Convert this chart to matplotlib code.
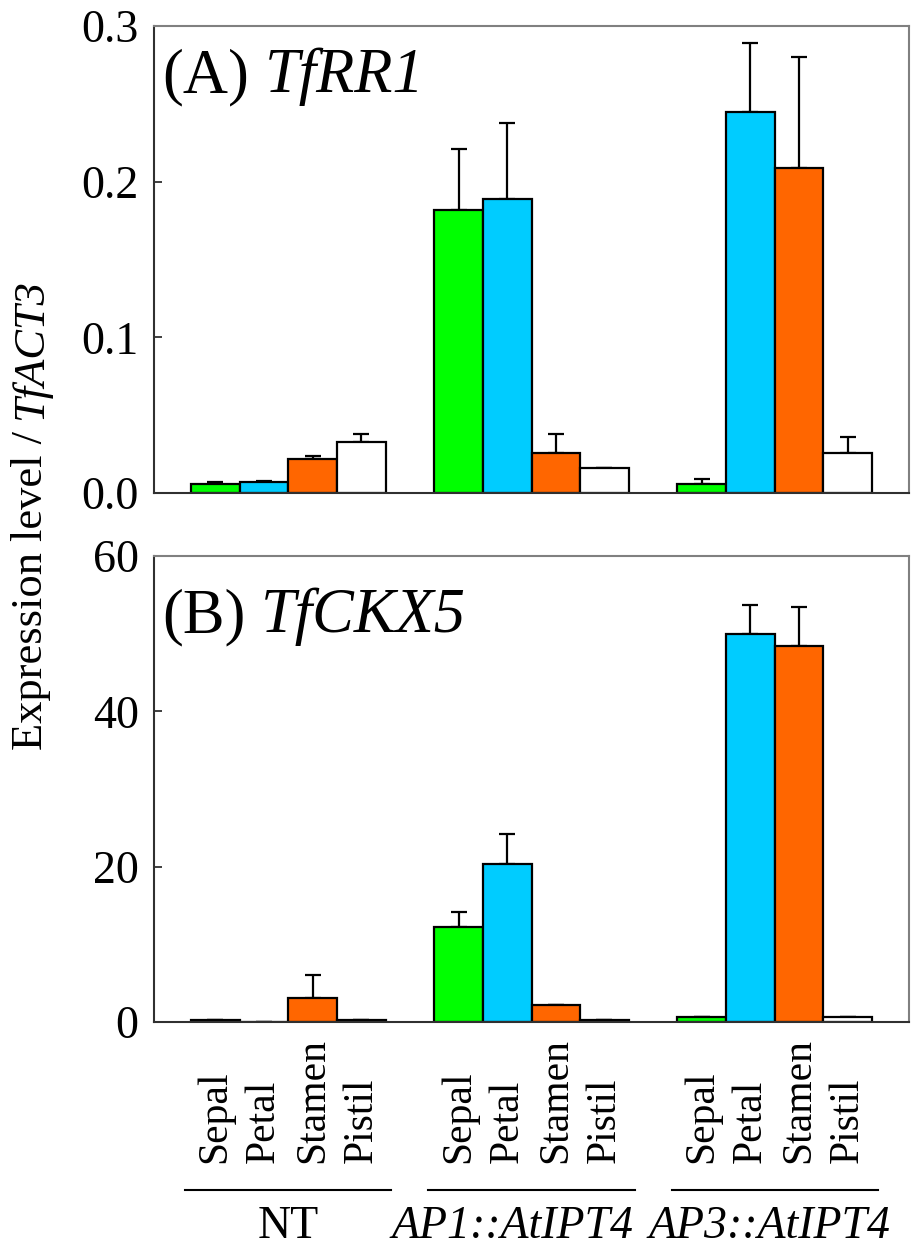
import numpy as np
import matplotlib
matplotlib.use("Agg")
import matplotlib.pyplot as plt
from matplotlib.transforms import blended_transform_factory, offset_copy

plt.rcParams['font.family'] = ['Liberation Serif', 'DejaVu Serif']

# ---- data -------------------------------------------------------------
groups = ['NT', 'AP1::AtIPT4', 'AP3::AtIPT4']
organs = ['Sepal', 'Petal', 'Stamen', 'Pistil']
organ_colors = ['#00FF00', '#00CCFF', '#FF6600', '#FFFFFF']

# (A) TfRR1, rows = groups, columns = organs
rr1_mean = [[0.006, 0.007, 0.022, 0.033],
            [0.182, 0.189, 0.026, 0.016],
            [0.006, 0.245, 0.209, 0.026]]
rr1_err = [[0.001, 0.001, 0.002, 0.005],
           [0.039, 0.049, 0.012, 0.000],
           [0.003, 0.044, 0.071, 0.010]]

# (B) TfCKX5
ckx5_mean = [[0.3, 0.05, 3.1, 0.3],
             [12.2, 20.4, 2.2, 0.3],
             [0.6, 49.9, 48.4, 0.6]]
ckx5_err = [[0.0, 0.0, 2.9, 0.0],
            [2.0, 3.8, 0.0, 0.0],
            [0.0, 3.8, 5.0, 0.0]]

rr1_ticks = [0.0, 0.1, 0.2, 0.3]
rr1_ticklabels = ['0.0', '0.1', '0.2', '0.3']
ckx5_ticks = [0, 20, 40, 60]
ckx5_ticklabels = ['0', '20', '40', '60']

panel_letters = ['(A)', '(B)']
panel_genes = ['TfRR1', 'TfCKX5']
ylabel_plain = 'Expression level /'
ylabel_gene = 'TfACT3'

# ---- layout -----------------------------------------------------------
W, H = 911, 1251
fig = plt.figure(figsize=(W / 100, H / 100), dpi=100)
renderer = fig.canvas.get_renderer()


def fig_rect(left, top, right, bottom):
    return [left / W, 1 - bottom / H, (right - left) / W, (bottom - top) / H]


ax_a = fig.add_axes(fig_rect(154, 26, 909, 493))
ax_b = fig.add_axes(fig_rect(154, 556, 909, 1022))

n_org = len(organs)
step = n_org + 1
xpos = np.array([[g * step + i for i in range(n_org)] for g in range(len(groups))])
xlim = (-1.26, (len(groups) - 1) * step + n_org - 1 + 1.26)


def mixed_label(ax, x, y, plain, italic, size):
    """Upright prefix followed by an italic gene name on one baseline."""
    t1 = ax.text(x, y, plain, transform=ax.transAxes, fontsize=size,
                 ha='left', va='baseline')
    w = t1.get_window_extent(renderer).width * 72 / fig.dpi
    trans = offset_copy(ax.transAxes, fig=fig, x=w + 0.25 * size, y=0,
                        units='points')
    ax.text(x, y, italic, transform=trans, fontsize=size, style='italic',
            ha='left', va='baseline')


def draw_panel(ax, means, errs, ticks, ticklabels, ylim, letter, gene, title_y):
    means = np.asarray(means)
    errs = np.asarray(errs)
    for i in range(n_org):
        ax.bar(xpos[:, i], means[:, i], width=1.0, color=organ_colors[i],
               edgecolor='black', linewidth=1.6, zorder=2)
        ax.errorbar(xpos[:, i], means[:, i],
                    yerr=[np.zeros(len(groups)), errs[:, i]],
                    fmt='none', ecolor='black', elinewidth=1.6,
                    capsize=5.5, capthick=1.6, zorder=1)
    ax.set_xlim(*xlim)
    ax.set_ylim(*ylim)
    ax.set_yticks(ticks)
    ax.set_yticklabels(ticklabels)
    ax.set_xticks([])
    ax.tick_params(axis='y', direction='in', length=6, width=1.3,
                   labelsize=33, pad=11, color='#303030')
    for side in ['left', 'bottom']:
        ax.spines[side].set_color('#303030')
        ax.spines[side].set_linewidth(1.5)
    for side in ['top', 'right']:
        ax.spines[side].set_color('#808080')
        ax.spines[side].set_linewidth(1.5)
    mixed_label(ax, 0.011, title_y, letter, gene, 45)


draw_panel(ax_a, rr1_mean, rr1_err, rr1_ticks, rr1_ticklabels,
           (0, 0.3), panel_letters[0], panel_genes[0], 1 - 66 / 467)
draw_panel(ax_b, ckx5_mean, ckx5_err, ckx5_ticks, ckx5_ticklabels,
           (0, 60), panel_letters[1], panel_genes[1], 1 - 76 / 466)

# shared y-axis label, read bottom to top
yl_x, yl_y0, yl_size = 42 / W, 1 - 750 / H, 32
yl1 = fig.text(yl_x, yl_y0, ylabel_plain, rotation=90, rotation_mode='anchor',
               fontsize=yl_size, ha='left', va='baseline')
yl_len = yl1.get_window_extent(renderer).height * 72 / fig.dpi
yl_trans = offset_copy(fig.transFigure, fig=fig, x=0,
                       y=yl_len + 0.25 * yl_size, units='points')
fig.text(yl_x, yl_y0, ylabel_gene, transform=yl_trans, rotation=90,
         rotation_mode='anchor', fontsize=yl_size, style='italic',
         ha='left', va='baseline')

# organ labels, group underlines and group names beneath the lower panel
trans = blended_transform_factory(ax_b.transData, fig.transFigure)
for g in range(len(groups)):
    for i in range(n_org):
        ax_b.text(xpos[g, i], 1 - 1163 / H, organs[i], transform=trans,
                  rotation=90, ha='center', va='bottom', fontsize=30,
                  clip_on=False)
    center = g * step + (n_org - 1) / 2
    ax_b.plot([center - 2.12, center + 2.12], [1 - 1190 / H] * 2,
              transform=trans, color='black', linewidth=1.5, clip_on=False)

group_offsets = [0.0, -0.4, -0.1]
for g, name in enumerate(groups):
    center = g * step + (n_org - 1) / 2 + group_offsets[g]
    style = 'normal' if g == 0 else 'italic'
    ax_b.text(center, 1 - 1238 / H, name, transform=trans, ha='center',
              va='baseline', fontsize=33, style=style, clip_on=False)

fig.savefig('out.png', dpi=100)
